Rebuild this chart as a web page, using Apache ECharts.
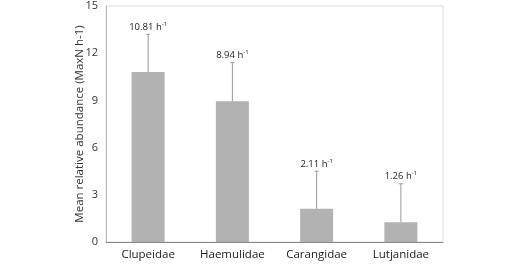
<!DOCTYPE html>
<html>
<head>
<meta charset="utf-8">
<script src="https://cdn.jsdelivr.net/npm/echarts@6/dist/echarts.min.js"></script>
<style>
  html, body { margin: 0; padding: 0; background: #fff; }
  #chart { width: 528px; height: 265px; }
</style>
</head>
<body>
<div id="chart"></div>
<script>
var families = ['Clupeidae', 'Haemulidae', 'Carangidae', 'Lutjanidae'];
var meanValues = [10.81, 8.94, 2.11, 1.26];
var upperValues = [13.2, 11.4, 4.5, 3.7];
var yTicks = [0, 3, 6, 9, 12, 15];

var dom = document.getElementById('chart');
var myChart = echarts.init(dom);

var errorData = families.map(function(name, i) {
    return [i, meanValues[i], upperValues[i]];
});

var option = {
    animation: false,
    textStyle: { fontFamily: 'Open Sans' },
    grid: {
        left: 106,
        right: 85,
        top: 6,
        bottom: 23,
        show: true,
        borderColor: '#dddddd',
        borderWidth: 1
    },
    xAxis: {
        type: 'category',
        data: families,
        axisLine: { lineStyle: { color: '#888888' } },
        axisTick: { show: false },
        axisLabel: { color: '#222', fontSize: 11.5, margin: 7 }
    },
    yAxis: {
        type: 'value',
        min: yTicks[0],
        max: yTicks[yTicks.length - 1],
        interval: 3,
        name: 'Mean relative abundance (MaxN h-1)',
        nameLocation: 'middle',
        nameGap: 20,
        nameMoveOverlap: false,
        nameTextStyle: { color: '#333', fontSize: 11.5 },
        axisLine: { show: true, lineStyle: { color: '#bbbbbb' } },
        axisTick: { show: false },
        splitLine: { show: false },
        axisLabel: { color: '#333', fontSize: 11, margin: 8 }
    },
    series: [{
        type: 'bar',
        data: meanValues,
        barWidth: 33,
        itemStyle: { color: '#b2b2b2' }
    }, {
        type: 'custom',
        data: errorData,
        z: 3,
        renderItem: function(params, api) {
            var base = api.coord([api.value(0), api.value(1)]);
            var top = api.coord([api.value(0), api.value(2)]);
            var mean = api.value(1);
            return {
                type: 'group',
                children: [{
                    type: 'line',
                    shape: { x1: base[0], y1: base[1], x2: top[0], y2: top[1] },
                    style: { stroke: '#999999', lineWidth: 1 }
                }, {
                    type: 'line',
                    shape: { x1: top[0] - 2, y1: top[1], x2: top[0] + 2, y2: top[1] },
                    style: { stroke: '#999999', lineWidth: 1 }
                }, {
                    type: 'text',
                    x: top[0],
                    y: top[1] - 1,
                    style: {
                        text: '{a|' + mean.toFixed(2) + ' h}{b|-1}',
                        align: 'center',
                        verticalAlign: 'bottom',
                        rich: {
                            a: { fontSize: 9.5, fill: '#222', fontFamily: 'Open Sans' },
                            b: { fontSize: 6, fill: '#222', fontFamily: 'Open Sans', padding: [0, 0, 6, 0] }
                        }
                    }
                }]
            };
        }
    }]
};
myChart.setOption(option, true);
</script>
</body>
</html>
